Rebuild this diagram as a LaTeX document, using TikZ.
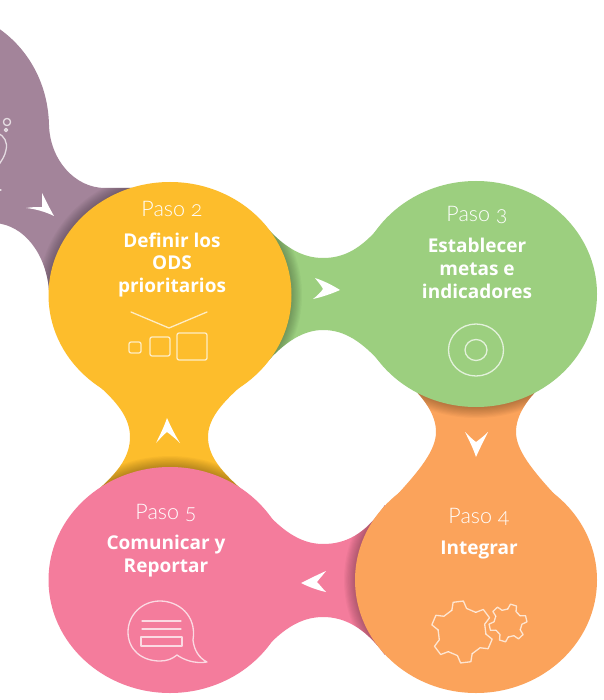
\documentclass[tikz,border=0pt]{standalone}
\usepackage{fontspec}
\setmainfont{Open Sans}
\newfontfamily\lightf{Lato Light}[Numbers=OldStyle]
\definecolor{cyel}{HTML}{FDBD2C}
\definecolor{cgrn}{HTML}{9CCF7F}
\definecolor{corg}{HTML}{FBA35B}
\definecolor{cpnk}{HTML}{F47C9C}
\definecolor{cpur}{HTML}{A3849A}
\tikzset{
  x=1pt,y=-1pt,
  paso/.style={text=white,font=\lightf\fontsize{21.5}{21.5}\selectfont,inner sep=0pt,anchor=base},
  titulo/.style={text=white,font=\bfseries\fontsize{19}{22.5}\selectfont,inner sep=0pt,align=center,anchor=base},
  icono/.style={draw=white,opacity=.72,line width=1.3pt,line join=round,line cap=round},
  flecha/.style={fill=white,draw=none},
}
\newcommand{\conn}[3]{%
  \fill[#1] #2;
  \begin{scope}
    \clip #2;
    \foreach \i in {10,9,...,1}{
      \fill[black,opacity=.028] (#3) ellipse [x radius={121pt+\i*1.1pt},y radius={113pt+\i*1.1pt}];
    }
  \end{scope}
}
\newcommand{\rueda}[6]{% cx cy router rinner teeth rot
  \pgfmathsetmacro{\stp}{360/#5}
  \foreach \k in {1,...,#5}{
    \pgfmathsetmacro{\a}{#6+\k*\stp}
    \draw[icono]
    ({#1+#4*cos(\a-.30*\stp)},{#2+#4*sin(\a-.30*\stp)})
    -- ({#1+#3*cos(\a-.16*\stp)},{#2+#3*sin(\a-.16*\stp)})
    -- ({#1+#3*cos(\a+.16*\stp)},{#2+#3*sin(\a+.16*\stp)})
    -- ({#1+#4*cos(\a+.30*\stp)},{#2+#4*sin(\a+.30*\stp)})
    -- ({#1+#4*cos(\a+.70*\stp)},{#2+#4*sin(\a+.70*\stp)});
  }
}
\begin{document}
\begin{tikzpicture}
\useasboundingbox (0,0) rectangle (603,700);
\clip (0,0) rectangle (603,700);
\fill[white] (0,0) rectangle (603,700);
\coordinate (c2) at (170,295);
\coordinate (c3) at (476,294);
\coordinate (c4) at (476,580);
\coordinate (c5) at (170,580);

% connectors and the first shape, each shaded by the circle lying on it
\conn{cpur}{(-5,26) .. controls (25,45) and (48,80) .. (49,125) .. controls (50,160) and (75,188) .. (105,188) -- (135,188) -- (110,300) -- (49,290) .. controls (46,255) and (25,225) .. (-5,223) -- cycle}{c2}
\conn{cgrn}{(262,222) .. controls (285,250) and (305,258) .. (323,258) .. controls (345,258) and (362,248) .. (382,224) -- (382,364) .. controls (362,342) and (345,330) .. (323,330) .. controls (305,330) and (285,340) .. (262,368) -- cycle}{c2}
\conn{corg}{(410,385) .. controls (425,400) and (436,415) .. (436,432) .. controls (436,450) and (420,470) .. (395,497) -- (557,497) .. controls (532,470) and (516,450) .. (516,432) .. controls (516,415) and (527,400) .. (542,385) -- cycle}{c3}
\conn{cyel}{(100,387) .. controls (120,405) and (130,420) .. (130,437) .. controls (130,455) and (120,470) .. (100,488) -- (240,488) .. controls (220,470) and (208,455) .. (208,437) .. controls (208,420) and (220,405) .. (240,387) -- cycle}{c5}
\conn{cpnk}{(257,502) .. controls (280,530) and (300,544) .. (323,544) .. controls (345,544) and (365,535) .. (385,505) -- (385,655) .. controls (365,628) and (345,617) .. (323,617) .. controls (300,617) and (280,630) .. (257,658) -- cycle}{c4}

% circles
\fill[cyel] (c2) ellipse [x radius=121.5pt,y radius=113pt];
\fill[cgrn] (c3) ellipse [x radius=121pt,y radius=113pt];
\fill[corg] (c4) ellipse [x radius=121pt,y radius=113pt];
\fill[cpnk] (c5) ellipse [x radius=121.5pt,y radius=113pt];

% arrowheads
\fill[flecha] (54,216) .. controls (46,212) and (36,209) .. (26,208) .. controls (32,207) and (37,207) .. (42,207) .. controls (42,202) and (42,198) .. (42,193) .. controls (46,201) and (50,209) .. (54,216) -- cycle;
\fill[flecha] (340,290) .. controls (332,285) and (324,281) .. (315,278) .. controls (318,282) and (321,285) .. (323,289) .. controls (321,292) and (317,296) .. (313,299) .. controls (322,297) and (331,294) .. (340,290) -- cycle;
\fill[flecha] (476,457) .. controls (473,448) and (469,440) .. (465,432) .. controls (469,436) and (472,439) .. (476,442) .. controls (480,439) and (484,436) .. (488,432) .. controls (484,440) and (480,448) .. (476,457) -- cycle;
\fill[flecha] (301,583) .. controls (309,579) and (317,575) .. (326,571) .. controls (323,575) and (320,578) .. (317,582) .. controls (320,585) and (323,589) .. (326,592) .. controls (317,590) and (309,587) .. (301,583) -- cycle;
\fill[flecha] (167,418) .. controls (164,427) and (160,435) .. (156,443) .. controls (160,439) and (163,435) .. (167,432) .. controls (171,435) and (176,439) .. (180,443) .. controls (175,435) and (171,427) .. (167,418) -- cycle;

% texts
\node[paso] (p2) at (172,217) {Paso 2};
\node[titulo] (t2) at (172,292) {Definir los\\ODS\\prioritarios};
\node[paso] (p3) at (477,222) {Paso 3};
\node[titulo] (t3) at (477,298) {Establecer\\metas e\\indicadores};
\node[paso] (p4) at (479,523) {Paso 4};
\node[titulo] (t4) at (479,554) {Integrar};
\node[paso] (p5) at (166,519) {Paso 5};
\node[titulo] (t5) at (166,572) {Comunicar y\\Reportar};

% icon: purple
\draw[icono] (7,122) circle [radius=3.6pt];
\draw[icono] (6,130) circle [radius=1.6pt];
\draw[icono] (-2,133) .. controls (4,136) and (8,142) .. (6,150) .. controls (5,156) and (2,160) .. (-2,166);
\draw[icono] (-2,190) -- (1,190);

% icon: yellow
\draw[icono] (131,312) -- (169,328) -- (207,312);
\draw[icono,rounded corners=2pt] (129,342) rectangle (141,353);
\draw[icono,rounded corners=2pt] (150,337) rectangle (170,356);
\draw[icono,rounded corners=2pt] (177,333) rectangle (207,360);

% icon: green
\draw[icono] (476,350) ellipse [x radius=27.5pt,y radius=26pt];
\draw[icono] (476,350) ellipse [x radius=11pt,y radius=10.5pt];

% icon: orange
\rueda{462}{632}{31}{24}{6}{23}
\rueda{508}{623}{19}{14}{6}{-13}

% icon: pink
\draw[icono] (177,655) .. controls (184,660) and (195,664) .. (207,662) .. controls (199,658) and (194,650) .. (193,640) .. controls (197,615) and (178,601) .. (160,601) .. controls (142,601) and (128,615) .. (128,632) .. controls (128,650) and (142,661) .. (160,661) .. controls (167,661) and (172,659) .. (177,655) -- cycle;
\draw[icono] (142,621) -- (181,621);
\draw[icono] (142,629) -- (181,629);
\draw[icono] (141,637) rectangle (182,646);
\end{tikzpicture}
\end{document}
